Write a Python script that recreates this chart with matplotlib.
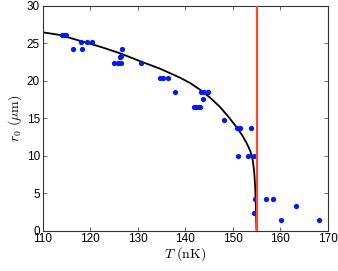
import numpy as np
import matplotlib
matplotlib.use("Agg")
import matplotlib.pyplot as plt

plt.rcParams['mathtext.fontset'] = 'cm'
plt.rcParams['font.family'] = ['Liberation Sans', 'DejaVu Sans']

# measured points
T_data = [114.0, 114.5, 115.0, 116.4, 118.1, 118.3, 119.4, 120.4,
          125.1, 125.8, 126.5, 126.2, 126.4, 126.7, 130.7,
          134.7, 135.4, 136.4, 137.8, 141.8, 142.3, 142.8, 143.2,
          143.8, 143.3, 144.0, 144.8, 148.1, 150.8, 151.6, 153.8,
          151.1, 153.1, 154.4, 154.65, 157.0, 158.4, 154.4, 163.3,
          160.2, 168.1]
r_data = [26.1, 26.1, 26.1, 24.2, 25.2, 24.2, 25.1, 25.1,
          22.3, 22.3, 22.3, 23.2, 23.3, 24.2, 22.3,
          20.4, 20.4, 20.4, 18.5, 16.5, 16.5, 16.5, 16.5,
          17.5, 18.5, 18.5, 18.5, 14.7, 13.7, 13.7, 13.7,
          10.0, 10.0, 10.0, 4.2, 4.2, 4.2, 2.3, 3.25,
          1.4, 1.4]

# fit curve
T_fit = [110, 113.6, 118.5, 122.5, 126.3, 130.5, 134.7, 138.9, 141.0,
         143.1, 145.3, 147.3, 149.2, 150.8, 152.0, 152.9, 153.7, 154.2,
         154.5, 154.7, 154.85, 155]
r_fit = [26.45, 26.1, 25.2, 24.45, 23.65, 22.6, 21.6, 20.4, 19.7,
         18.8, 17.7, 16.5, 15.1, 13.8, 12.7, 11.7, 10.6, 9.4,
         7.9, 6.0, 3.4, 0]

T_c = 155.0

fig = plt.figure(figsize=(3.38, 2.71), dpi=100)
ax = fig.add_axes([0.126, 0.149, 0.844, 0.830])

ax.plot(T_data, r_data, 'o', color=(0, 0.1, 1), markersize=3.8, markeredgewidth=0, zorder=3)
ax.plot(T_fit, r_fit, '-', color='black', linewidth=1.3, zorder=2)
ax.axvline(T_c, color='#ff4a2a', linewidth=1.6, zorder=4)

ax.set_xlim(110, 170)
ax.set_ylim(0, 30)
ax.set_xticks(np.arange(110, 171, 10))
ax.set_yticks(np.arange(0, 31, 5))
ax.tick_params(direction='in', top=True, right=True, labelsize=8.5,
               length=3, width=0.6, color='#555555', pad=2)
for s in ax.spines.values():
    s.set_linewidth(0.8)
    s.set_color('#333333')

ax.set_xlabel(r'$T\ (\mathrm{nK})$', fontsize=10, labelpad=0)
ax.set_ylabel(r'$r_0\ (\mu\mathrm{m})$', fontsize=10, labelpad=2)

fig.savefig('out.png', dpi=100)
